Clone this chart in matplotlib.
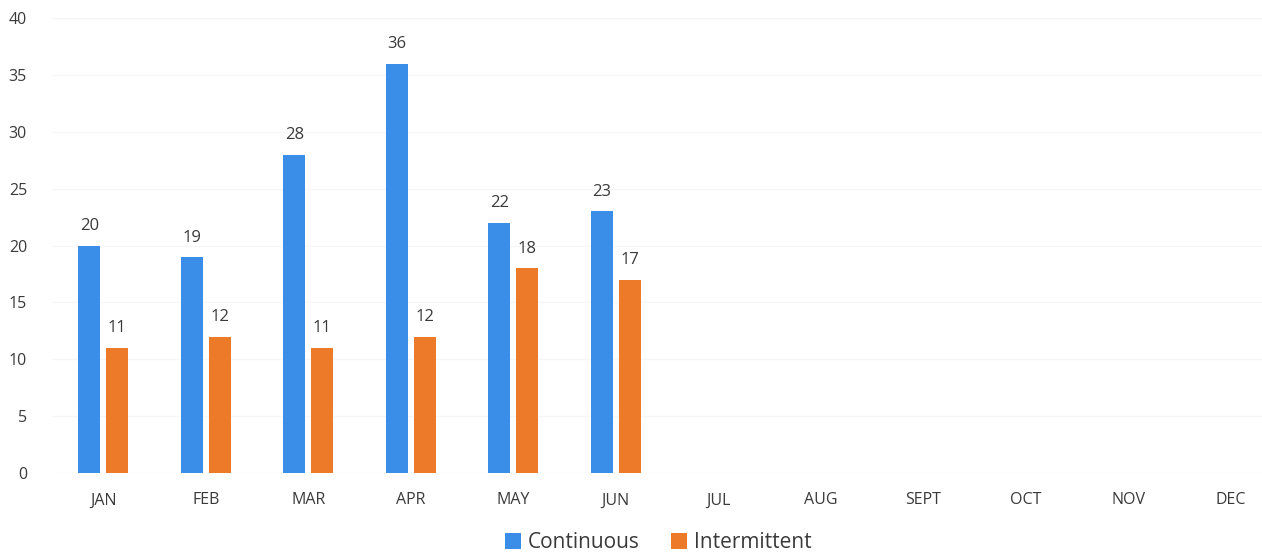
import matplotlib
matplotlib.use("Agg")
import matplotlib.pyplot as plt
import numpy as np

months = ["JAN", "FEB", "MAR", "APR", "MAY", "JUN",
          "JUL", "AUG", "SEPT", "OCT", "NOV", "DEC"]
continuous = [20, 19, 28, 36, 22, 23]
intermittent = [11, 12, 11, 12, 18, 17]
y_ticks = [0, 5, 10, 15, 20, 25, 30, 35, 40]

blue = "#3a8ee8"
orange = "#ed7a28"
text_col = "#3a3a3a"

plt.rcParams["font.family"] = ["Open Sans", "DejaVu Sans"]

W, H, dpi = 1262, 558, 100
fig = plt.figure(figsize=(W / dpi, H / dpi), dpi=dpi)

left_px, right_px = 52, 1262
bottom_px, top_px = 558 - 473, 558 - 18
ax = fig.add_axes([left_px / W, bottom_px / H,
                   (right_px - left_px) / W, (top_px - bottom_px) / H])

slot = 102.5  # pixels per category
x = np.arange(len(months))
bw = 22 / slot
off = 14 / slot

xc = x[:len(continuous)]
b1 = ax.bar(xc - off, continuous, bw, color=blue, label="Continuous", zorder=3)
b2 = ax.bar(xc + off, intermittent, bw, color=orange, label="Intermittent", zorder=3)

for bars, vals in ((b1, continuous), (b2, intermittent)):
    for rect, v in zip(bars, vals):
        ax.text(rect.get_x() + rect.get_width() / 2, v + 1.0, f"{v}",
                ha="center", va="bottom", fontsize=12, color=text_col)

ax.set_ylim(0, 40)
ax.set_xlim(-0.5, -0.5 + (right_px - left_px) / slot)
ax.set_yticks(y_ticks)
ax.set_xticks(x)
ax.set_xticklabels(months)
ax.tick_params(axis="both", length=0, labelsize=11.5, colors=text_col)
ax.tick_params(axis="x", pad=14)
ax.tick_params(axis="y", pad=18)
for lbl in ax.get_yticklabels():
    lbl.set_horizontalalignment("right")

ax.grid(axis="y", color="#f6f6f6", linewidth=1.0, zorder=0)
for s in ax.spines.values():
    s.set_visible(False)

leg = fig.legend(handles=[b1, b2], labels=["Continuous", "Intermittent"],
                 loc="center", bbox_to_anchor=(658 / W, 1 - 543 / H),
                 ncol=2, frameon=False, fontsize=15, handlelength=0.8,
                 handleheight=0.8, handletextpad=0.3, columnspacing=1.5)
for t in leg.get_texts():
    t.set_color(text_col)

fig.savefig("out.png", dpi=dpi)
